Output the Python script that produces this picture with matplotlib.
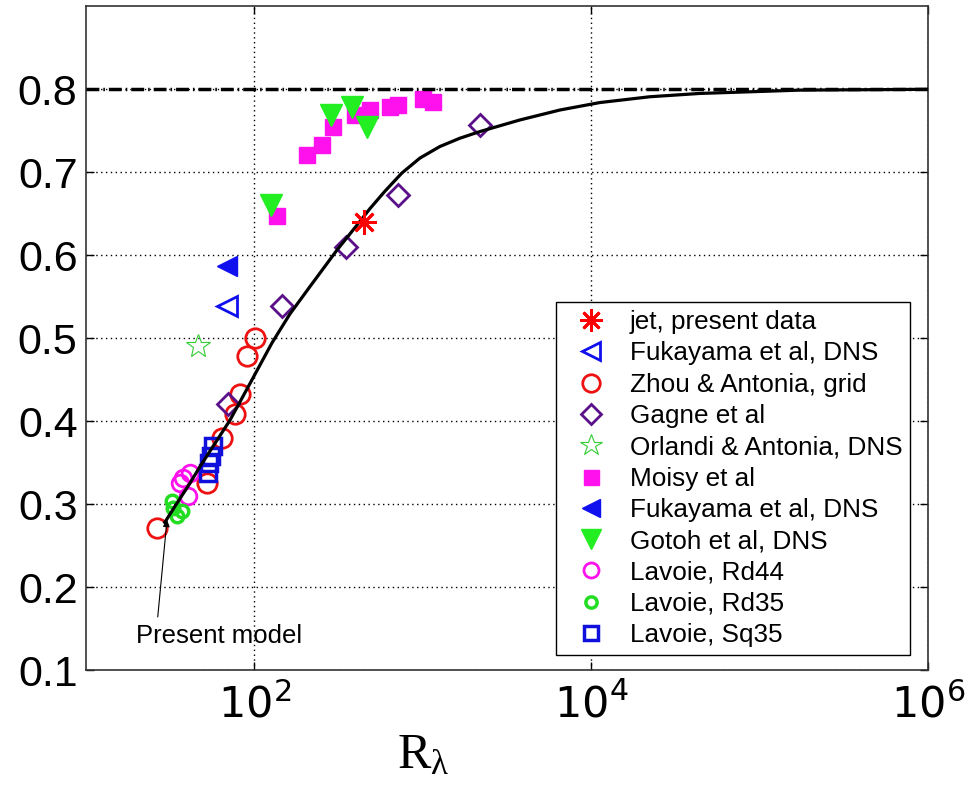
import matplotlib.pyplot as plt
from matplotlib.ticker import FixedLocator, NullLocator

plt.rcParams['font.family'] = ['Liberation Sans', 'DejaVu Sans']
plt.rcParams['mathtext.fontset'] = 'custom'
plt.rcParams['mathtext.rm'] = 'Liberation Serif'
plt.rcParams['mathtext.it'] = 'Liberation Serif'

# model curve
model_R = [29.4, 34.7, 41.4, 47.5, 58.3, 71.6, 94.0, 127, 162.4, 213.5, 308.8,
           394.8, 484.6, 595, 750.6, 960, 1262, 1658, 2179, 3764, 6503, 11230,
           22240, 44050, 172800, 1000000]
model_S = [0.278, 0.301, 0.325, 0.345, 0.373, 0.401, 0.445, 0.494, 0.529, 0.562,
           0.606, 0.633, 0.656, 0.677, 0.699, 0.717, 0.731, 0.741, 0.749, 0.763,
           0.775, 0.784, 0.791, 0.795, 0.799, 0.800]

jet_R = [447]
jet_S = [0.640]

fuk_open_R = [68.7]
fuk_open_S = [0.539]
fuk_fill_R = [68.7]
fuk_fill_S = [0.587]

zhou_R = [101, 90, 82, 76.5, 64, 52, 26.4]
zhou_S = [0.500, 0.479, 0.433, 0.409, 0.380, 0.326, 0.271]

gagne_R = [69.7, 146, 349, 711, 2180]
gagne_S = [0.421, 0.539, 0.610, 0.673, 0.757]

orlandi_R = [46.3]
orlandi_S = [0.491]

moisy_R = [136, 205, 252, 292, 395, 484, 637, 711, 1000, 1147]
moisy_S = [0.647, 0.721, 0.733, 0.754, 0.769, 0.775, 0.779, 0.781, 0.788, 0.785]

gotoh_R = [125, 284, 379, 466]
gotoh_S = [0.661, 0.769, 0.779, 0.755]

rd44_R = [41.4, 37.6, 36.1, 40.3]
rd44_S = [0.337, 0.331, 0.326, 0.310]

rd35_R = [32.4, 32.8, 37.2, 34.7]
rd35_S = [0.304, 0.295, 0.292, 0.286]

sq35_R = [56.8, 55.2, 53.7, 53.0]
sq35_S = [0.370, 0.358, 0.349, 0.338]

fig = plt.figure(figsize=(9.76, 7.92), dpi=100)
ax = fig.add_axes([0.088, 0.154, 0.863, 0.838])

ax.plot(jet_R, jet_S, ls='none', marker=(8, 2, 0), ms=18, mew=2, color='red',
        label='jet, present data', zorder=5)
ax.plot(fuk_open_R, fuk_open_S, ls='none', marker='<', ms=15, mew=2, mfc='none',
        mec='#1010ee', label='Fukayama et al, DNS')
ax.plot(zhou_R, zhou_S, ls='none', marker='o', ms=14, mew=2, mfc='none',
        mec='#ee1111', label='Zhou & Antonia, grid')
ax.plot(gagne_R, gagne_S, ls='none', marker='D', ms=11, mew=2, mfc='none',
        mec='#5a1088', label='Gagne et al')
ax.plot(orlandi_R, orlandi_S, ls='none', marker='*', ms=18, mew=0.8, mfc='none',
        mec='#33cc33', label='Orlandi & Antonia, DNS')
ax.plot(moisy_R, moisy_S, ls='none', marker='s', ms=12, color='#ff11ee',
        label='Moisy et al')
ax.plot(fuk_fill_R, fuk_fill_S, ls='none', marker='<', ms=14, color='#1010ee',
        label='Fukayama et al, DNS')
ax.plot(gotoh_R, gotoh_S, ls='none', marker='v', ms=16, color='#22ee22',
        label='Gotoh et al, DNS')
ax.plot(rd44_R, rd44_S, ls='none', marker='o', ms=12, mew=2, mfc='none',
        mec='#ff11ee', label='Lavoie, Rd44')
ax.plot(rd35_R, rd35_S, ls='none', marker='o', ms=9, mew=2.5, mfc='none',
        mec='#22dd22', label='Lavoie, Rd35')
ax.plot(sq35_R, sq35_S, ls='none', marker='s', ms=11, mew=2.5, mfc='none',
        mec='#1010dd', label='Lavoie, Sq35')

ax.plot(model_R, model_S, color='black', lw=2.3, zorder=4,
        solid_joinstyle='round')
ax.axhline(0.8, color='black', lw=2.5, ls=(0, (3.7, 1.15, 0.45, 1.15)), zorder=3)

# annotation: label text and a separate thin arrow up to the curve start
ax.text(61.5, 0.132, 'Present model', fontsize=18.5, ha='center', va='baseline')
ax.annotate('', xy=(30.3, 0.281), xytext=(26.7, 0.164),
            arrowprops=dict(arrowstyle='-|>', color='black', lw=0.8,
                            mutation_scale=10, shrinkA=0, shrinkB=0))

ax.set_xscale('log')
ax.set_xlim(10, 1e6)
ax.set_ylim(0.1, 0.9)
ax.xaxis.set_major_locator(FixedLocator([1e2, 1e4, 1e6]))
ax.xaxis.set_minor_locator(NullLocator())
ax.set_xticklabels([r'$\mathsf{10^{2}}$', r'$\mathsf{10^{4}}$', r'$\mathsf{10^{6}}$'])
ax.set_yticks([0.1, 0.2, 0.3, 0.4, 0.5, 0.6, 0.7, 0.8])
ax.set_yticklabels(['0.1', '0.2', '0.3', '0.4', '0.5', '0.6', '0.7', '0.8'])
ax.tick_params(direction='in', length=6, width=1, top=True, right=True,
               labelsize=31, pad=6)
ax.tick_params(axis='x', pad=10)
ax.grid(True, color='black', lw=1, ls=(0, (1, 2.5)))
for s in ax.spines.values():
    s.set_linewidth(1.2)
    s.set_color('#333333')

ax.set_xlabel(r'R$_\lambda$', fontsize=36, family='Liberation Serif')
ax.xaxis.set_label_coords(0.40, -0.095)

leg = ax.legend(loc='lower right', bbox_to_anchor=(0.979, 0.0226), fontsize=18.8,
                fancybox=False, framealpha=1, edgecolor='black',
                handlelength=2.1, handletextpad=0.45, labelspacing=0.28,
                borderpad=0.3, borderaxespad=0, numpoints=1, markerscale=0.9)
leg.get_frame().set_linewidth(1)

fig.savefig('out.png', dpi=100)
